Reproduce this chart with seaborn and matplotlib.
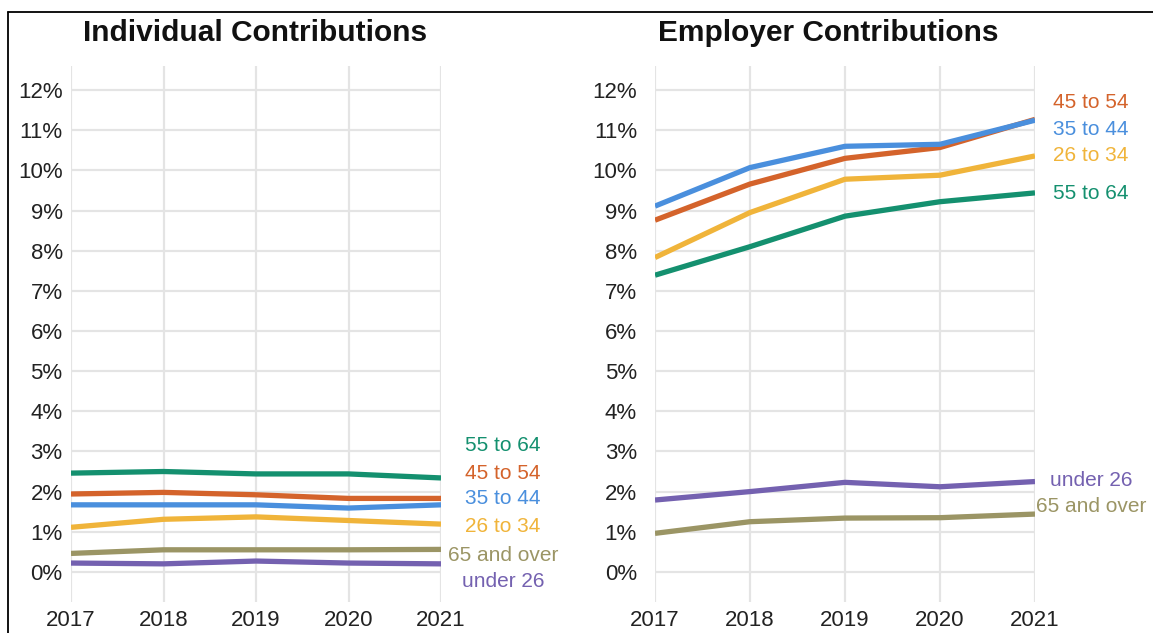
import matplotlib
matplotlib.use("Agg")
import matplotlib.pyplot as plt
from matplotlib.lines import Line2D
import numpy as np
import pandas as pd
import seaborn as sns

# ---------------- data ----------------
years = [2017, 2018, 2019, 2020, 2021]
groups = ["55 to 64", "45 to 54", "35 to 44", "26 to 34", "65 and over", "under 26"]

indiv_55_64 = [2.46, 2.50, 2.44, 2.44, 2.34]
indiv_45_54 = [1.94, 1.98, 1.92, 1.83, 1.83]
indiv_35_44 = [1.67, 1.67, 1.67, 1.59, 1.67]
indiv_26_34 = [1.11, 1.31, 1.37, 1.28, 1.19]
indiv_65_over = [0.46, 0.55, 0.55, 0.55, 0.56]
indiv_under_26 = [0.22, 0.20, 0.27, 0.22, 0.20]

emp_55_64 = [7.39, 8.10, 8.86, 9.22, 9.44]
emp_45_54 = [8.76, 9.66, 10.30, 10.57, 11.27]
emp_35_44 = [9.11, 10.07, 10.60, 10.65, 11.25]
emp_26_34 = [7.83, 8.95, 9.78, 9.88, 10.36]
emp_65_over = [0.96, 1.25, 1.34, 1.35, 1.44]
emp_under_26 = [1.79, 2.00, 2.23, 2.12, 2.25]

y_ticks = [0, 1, 2, 3, 4, 5, 6, 7, 8, 9, 10, 11, 12]
y_tick_labels = [f"{t}%" for t in y_ticks]
titles = ["Individual Contributions", "Employer Contributions"]

# ---------------- styling ----------------
palette = {
    "55 to 64": "#14906f",
    "45 to 54": "#d4632b",
    "35 to 44": "#4a8fdd",
    "26 to 34": "#f0b43a",
    "65 and over": "#9b9565",
    "under 26": "#7461b0",
}
# end-label placements (layout only)
indiv_label_x = 2021.67
indiv_label_y = {"55 to 64": 3.16, "45 to 54": 2.46, "35 to 44": 1.82,
                 "26 to 34": 1.12, "65 and over": 0.42, "under 26": -0.25}
emp_label_x = 2021.59
emp_label_y = {"45 to 54": 11.68, "35 to 44": 11.03, "26 to 34": 10.36,
               "55 to 64": 9.43, "under 26": 2.27, "65 and over": 1.64}


def long_frame(series):
    rows = []
    for g, vals in zip(groups, series):
        for yr, v in zip(years, vals):
            rows.append({"year": yr, "group": g, "value": v})
    return pd.DataFrame(rows)


df_ind = long_frame([indiv_55_64, indiv_45_54, indiv_35_44, indiv_26_34,
                     indiv_65_over, indiv_under_26])
df_emp = long_frame([emp_55_64, emp_45_54, emp_35_44, emp_26_34,
                     emp_65_over, emp_under_26])

sns.set_theme(style="whitegrid")
plt.rcParams["font.family"] = ["Liberation Sans", "DejaVu Sans"]

W, H = 1153, 633
fig = plt.figure(figsize=(W / 100, H / 100), dpi=100)
fig.patch.set_facecolor("white")

def px_axes(x0, x1, ytop, ybot):
    return fig.add_axes([x0 / W, 1 - ybot / H, (x1 - x0) / W, (ybot - ytop) / H])

ax1 = px_axes(71, 441, 66, 602)
ax2 = px_axes(655, 1035, 66, 602)

for ax, df, lx, ly, ypad in [(ax1, df_ind, indiv_label_x, indiv_label_y, 6),
                             (ax2, df_emp, emp_label_x, emp_label_y, 13)]:
    sns.lineplot(data=df, x="year", y="value", hue="group", palette=palette,
                 linewidth=3.8, ax=ax, legend=False, solid_capstyle="butt",
                 zorder=3)
    ax.set_xlim(2017, 2021)
    ax.set_ylim(-0.75, 12.6)
    ax.set_xticks(years)
    ax.set_xticklabels([str(y) for y in years])
    ax.set_yticks(y_ticks)
    ax.set_yticklabels(y_tick_labels)
    ax.set_xlabel("")
    ax.set_ylabel("")
    ax.grid(True, color="#e4e4e4", linewidth=1.6)
    for s in ax.spines.values():
        s.set_visible(False)
    ax.tick_params(axis="both", length=0, labelsize=16, colors="#222222")
    ax.tick_params(axis="y", pad=ypad)
    ax.tick_params(axis="x", pad=6)
    ax.set_facecolor("white")
    for g, yv in ly.items():
        ax.text(lx, yv, g, color=palette[g], fontsize=15, ha="center",
                va="center", clip_on=False)

fig.text(255 / W, 1 - 33 / H, titles[0], fontsize=21.5, fontweight="bold",
         ha="center", va="center", color="#111111")
fig.text(828 / W, 1 - 33 / H, titles[1], fontsize=21.5, fontweight="bold",
         ha="center", va="center", color="#111111")

# frame lines (top and left)
fig.add_artist(Line2D([8 / W, 1], [1 - 12 / H, 1 - 12 / H], color="black",
                      linewidth=1.3, transform=fig.transFigure))
fig.add_artist(Line2D([8 / W, 8 / W], [0, 1 - 12 / H], color="black",
                      linewidth=1.3, transform=fig.transFigure))

fig.savefig("out.png", dpi=100, facecolor="white")
